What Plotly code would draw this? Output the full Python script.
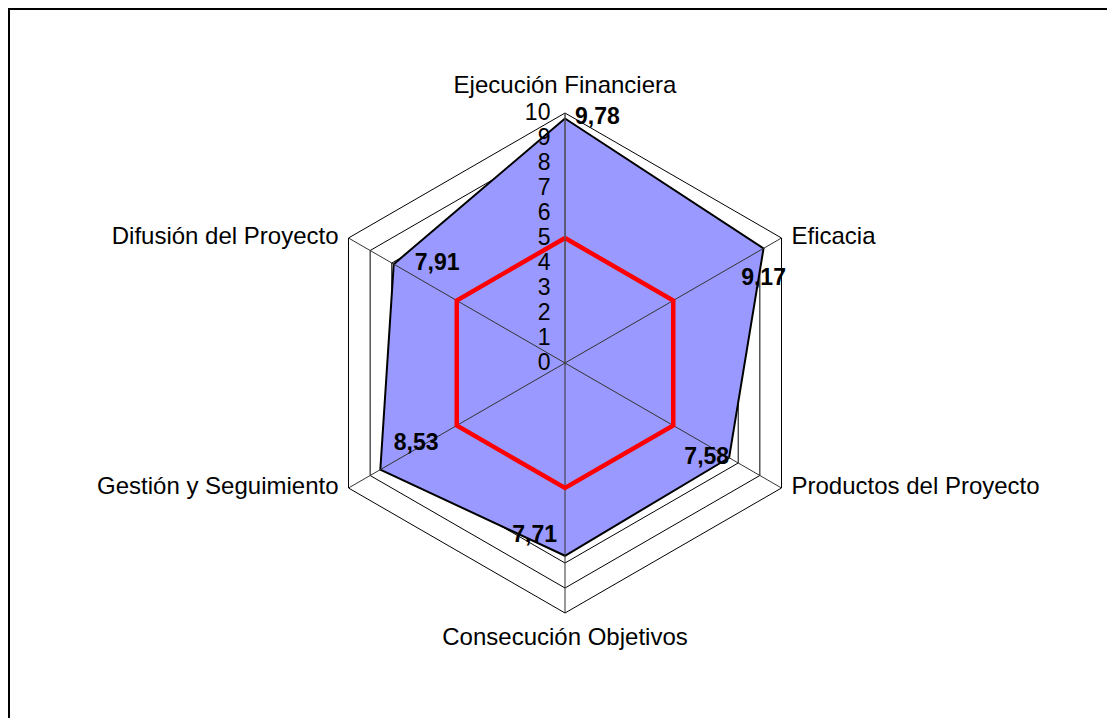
import plotly.graph_objects as go

categories = ["Ejecución Financiera", "Eficacia", "Productos del Proyecto",
              "Consecución Objetivos", "Gestión y Seguimiento", "Difusión del Proyecto"]
values = [9.78, 9.17, 7.58, 7.71, 8.53, 7.91]
value_labels = ["9,78", "9,17", "7,58", "7,71", "8,53", "7,91"]
reference = [5, 5, 5, 5, 5, 5]
radial_ticks = [0, 1, 2, 3, 4, 5, 6, 7, 8, 9, 10]

# label styling (placement relative to points)
value_label_pos = ["middle right", "bottom center", "middle left",
                   "top left", "top right", "middle right"]
value_label_pad = [14.4, 28.8, 0, 11.2, 20.0, 32]
cat_label_pos = ["top center", "middle right", "middle right",
                 "bottom center", "middle left", "middle left"]
cat_label_pad = [20.8, 14.4, 14.4, 20.8, 14.4, 14.4]

W, H = 1115, 718
OFF = 8  # page body margin
cx, cy, R = 565 - OFF, 363 - OFF, 250
FONT = "Liberation Sans, Arial, sans-serif"

theta_closed = categories + [categories[0]]
r_max = radial_ticks[-1]

fig = go.Figure()

# main series (opaque fill hides inner grid)
fig.add_trace(go.Scatterpolar(
    r=values + [values[0]], theta=theta_closed,
    mode="lines", fill="toself", fillcolor="#9999FF",
    line=dict(color="black", width=2), hoverinfo="skip", showlegend=False))

# spokes drawn over the fill
for c in categories:
    fig.add_trace(go.Scatterpolar(
        r=[0, r_max], theta=[c, c], mode="lines",
        line=dict(color="#333333", width=1), hoverinfo="skip", showlegend=False))

# reference series
fig.add_trace(go.Scatterpolar(
    r=reference + [reference[0]], theta=theta_closed, mode="lines",
    line=dict(color="#FF0000", width=4.5), hoverinfo="skip", showlegend=False))

# value labels
fig.add_trace(go.Scatterpolar(
    r=values, theta=categories, mode="markers+text", text=value_labels,
    textposition=value_label_pos,
    marker=dict(size=value_label_pad, color="rgba(0,0,0,0)",
                line=dict(width=0, color="rgba(0,0,0,0)")),
    textfont=dict(family=FONT, size=23, color="black", weight="bold"),
    cliponaxis=False, hoverinfo="skip", showlegend=False))

# category labels
fig.add_trace(go.Scatterpolar(
    r=[r_max] * len(categories), theta=categories, mode="markers+text",
    text=categories, textposition=cat_label_pos,
    marker=dict(size=cat_label_pad, color="rgba(0,0,0,0)",
                line=dict(width=0, color="rgba(0,0,0,0)")),
    textfont=dict(family=FONT, size=24, color="black"),
    cliponaxis=False, hoverinfo="skip", showlegend=False))

fig.update_layout(
    width=W, height=H,
    margin=dict(l=0, r=0, t=0, b=0),
    paper_bgcolor="white",
    showlegend=False,
    polar=dict(
        domain=dict(x=[(cx - R) / W, (cx + R) / W],
                    y=[(H - cy - R) / H, (H - cy + R) / H]),
        bgcolor="white",
        gridshape="linear",
        angularaxis=dict(
            rotation=90, direction="clockwise",
            showline=True, linecolor="black", linewidth=1,
            showgrid=False, ticks="", showticklabels=False),
        radialaxis=dict(
            range=[0, r_max], angle=90, side="counterclockwise",
            tickvals=radial_ticks, ticktext=[str(t) for t in radial_ticks],
            showline=True, linecolor="#555555", linewidth=1,
            showgrid=True, gridcolor="black", gridwidth=1,
            ticks="outside", ticklen=6, tickcolor="rgba(0,0,0,0)",
            tickangle=90,
            tickfont=dict(family=FONT, size=23, color="black")),
    ),
    shapes=[dict(type="rect", xref="paper", yref="paper",
                 x0=1 / W, x1=1.02, y0=-0.02, y1=1 - 1 / H,
                 line=dict(color="black", width=2))],
)

fig.write_html("out.html")
